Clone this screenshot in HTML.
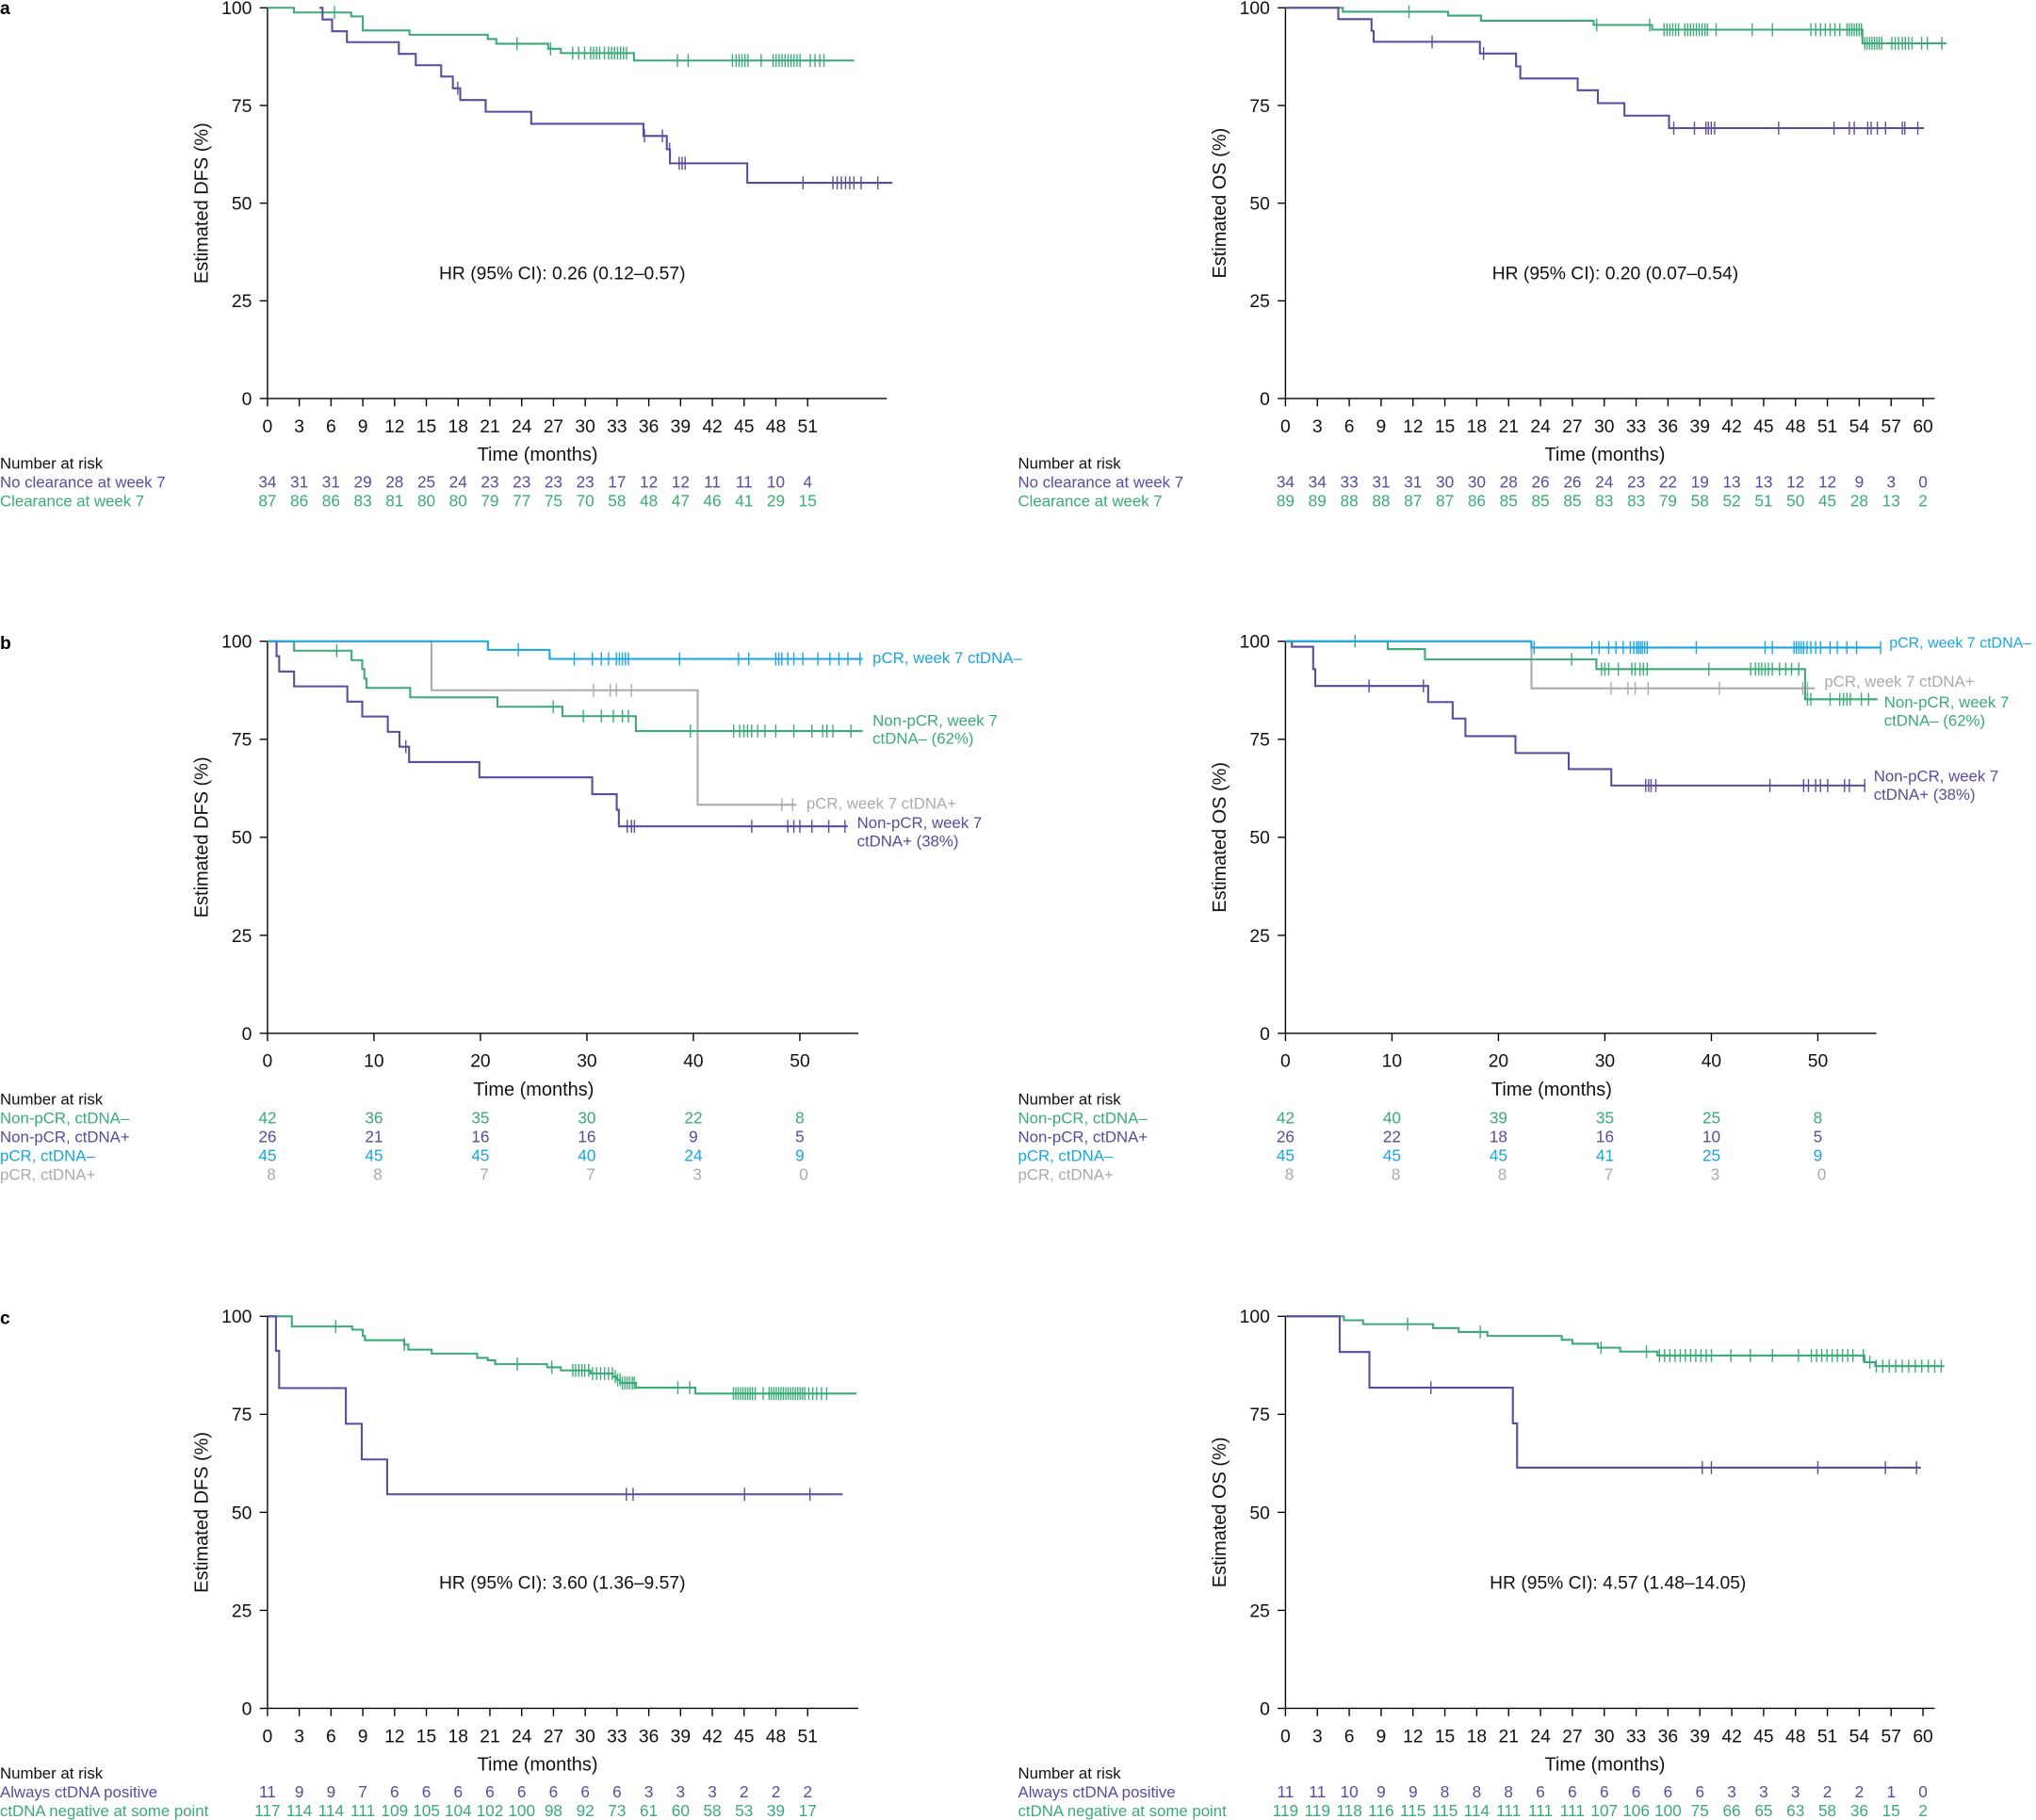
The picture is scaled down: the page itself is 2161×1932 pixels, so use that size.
<!DOCTYPE html>
<html><head><meta charset="utf-8"><style>
html,body{margin:0;padding:0;background:#fff;}
svg{display:block;font-family:"Liberation Sans Narrow","Liberation Sans",Arial,sans-serif;}
</style></head><body>
<svg id="s" width="2161" height="1932" viewBox="0 0 1568 1402" preserveAspectRatio="none" xmlns="http://www.w3.org/2000/svg"></svg>
<script>
const S=document.getElementById('s');const NS='http://www.w3.org/2000/svg';
function el(tag,a,txt){const e=document.createElementNS(NS,tag);for(const k in a)e.setAttribute(k,a[k]);if(txt!==undefined)e.textContent=txt;S.appendChild(e);return e;}
const PU='#5b4a9e',GR='#3aaa78',BL='#1aa5e0',GY='#aaaaaa';
function rng(a,b,s){const r=[];for(let v=a;v<=b+1e-9;v+=s)r.push(v);return r;}
function axes(p,ylab){
 el('line',{x1:p.x0,y1:p.yt,x2:p.x0,y2:p.yb,stroke:'#000','stroke-width':1});
 el('line',{x1:p.x0,y1:p.yb,x2:p.end,y2:p.yb,stroke:'#000','stroke-width':1});
 [0,25,50,75,100].forEach(v=>{const y=p.yb-(p.yb-p.yt)*v/100;
  el('line',{x1:p.x0-6,y1:y,x2:p.x0,y2:y,stroke:'#000','stroke-width':1});
  el('text',{x:p.x0-12,y:y+5,'font-size':14,'text-anchor':'end',fill:'#111'},String(v));});
 p.ticks.forEach(t=>{const x=p.x0+t*p.ppm;
  el('line',{x1:x,y1:p.yb,x2:x,y2:p.yb+6,stroke:'#000','stroke-width':1});
  el('text',{x:x,y:p.yb+26,'font-size':14,'text-anchor':'middle',fill:'#111'},String(t));});
 el('text',{x:p.tx,y:p.yb+48,'font-size':14.5,'text-anchor':'middle',fill:'#111'},'Time (months)');
 const cy=(p.yt+p.yb)/2;
 el('text',{x:p.x0-46,y:cy,'font-size':14.5,'text-anchor':'middle',fill:'#111',transform:`rotate(-90 ${p.x0-46} ${cy})`},ylab);
}
function curve(p,col,steps,end,cens,start){
 start=start||0;const X=t=>p.x0+t*p.ppm,Y=v=>p.yb-(p.yb-p.yt)*v/100;
 let d=`M${X(start)} ${Y(100)}`;steps.forEach(s=>{d+=` H${X(s[0])} V${Y(s[1])}`;});d+=` H${X(end)}`;
 el('path',{d:d,fill:'none',stroke:col,'stroke-width':1.5});
 const val=t=>{let v=100;steps.forEach(s=>{if(s[0]<=t)v=s[1];});return v;};
 cens.forEach(t=>{const x=X(t),y=Y(val(t));el('line',{x1:x,y1:y-5,x2:x,y2:y+5,stroke:col,'stroke-width':1});});
}
function risk(p,xl,y0,rows){
 el('text',{x:xl,y:y0,'font-size':12.2,fill:'#111'},'Number at risk');
 rows.forEach((r,i)=>{const y=y0+14.5*(i+1);
  el('text',{x:xl,y:y,'font-size':12.2,fill:r[0]},r[1]);
  r[2].forEach((n,j)=>{el('text',{x:p.x0+p.ticks[j]*p.ppm+(r[3]||0),y:y,'font-size':12.5,'text-anchor':'middle',fill:r[0]},String(n));});});
}
function txt(x,y,s,col,size,anchor){el('text',{x:x,y:y,'font-size':size||12.2,fill:col,'text-anchor':anchor||'start'},s);}
const aL={x0:206,ppm:8.157,yt:6,yb:307,end:683,ticks:rng(0,51,3),tx:414};
const aR={x0:990,ppm:8.183,yt:6,yb:307,end:1490,ticks:rng(0,60,3),tx:1236};
const bL={x0:206,ppm:8.2,yt:494,yb:796,end:661,ticks:rng(0,50,10),tx:411};
const bR={x0:990,ppm:8.2,yt:494,yb:796,end:1445,ticks:rng(0,50,10),tx:1195};
const cL={x0:206,ppm:8.157,yt:1014,yb:1316,end:661,ticks:rng(0,51,3),tx:414};
const cR={x0:990,ppm:8.183,yt:1014,yb:1316,end:1490,ticks:rng(0,60,3),tx:1236};
axes(aL,'Estimated DFS (%)');axes(aR,'Estimated OS (%)');axes(bL,'Estimated DFS (%)');axes(bR,'Estimated OS (%)');axes(cL,'Estimated DFS (%)');axes(cR,'Estimated OS (%)');
el('text',{x:0,y:11,'font-size':14,'font-weight':'bold',fill:'#000'},'a');
el('text',{x:0,y:500,'font-size':14,'font-weight':'bold',fill:'#000'},'b');
el('text',{x:0,y:1020,'font-size':14,'font-weight':'bold',fill:'#000'},'c');
const z1=x=>(x-445)/17.7;
curve(aL,GR,[[2.5,98.8],[7.9,97.8],[9.0,94.2],[13.4,93.1],[20.8,92.0],[21.6,90.8],[26.5,89.5],[27.7,88.4],[34.6,86.5]],55.4,
 [557,862,918,955,965,975,985,990,995,1000,1008,1015,1020,1025,1030,1035,1040,1045,1130,1148,1222,1228,1233,1238,1243,1248,1270,1290,1295,1300,1305,1310,1315,1320,1325,1330,1335,1352,1360,1368,1375].map(z1));
curve(aL,PU,[[5.2,97],[6.1,94],[7.5,91.2],[12.4,88.2],[14,85.3],[16.4,82.4],[17.5,79.4],[18.2,76.4],[20.6,73.4],[24.9,70.3],[35.5,67.2],[37.7,63.8],[38,60.2],[45.3,55.2]],59,
 [763,1075,1105,1117,1133,1138,1143,1340,1390,1397,1404,1411,1418,1425,1437,1465].map(z1),4.9);
txt(433,215,'HR (95% CI): 0.26 (0.12–0.57)','#111',14,'middle');
risk(aL,0,361,[[PU,'No clearance at week 7',[34,31,31,29,28,25,24,23,23,23,23,17,12,12,11,11,10,4]],[GR,'Clearance at week 7',[87,86,86,83,81,80,80,79,77,75,70,58,48,47,46,41,29,15]]]);
const z6=x=>-0.38+0.0453*x;
curve(aR,GR,[[5.4,99],[15.3,98],[18.4,96.7],[29,95.6],[34.5,94.4],[54.3,90.9]],62.2,
 [265,655,765,795,801,807,813,819,825,838,844,850,856,862,868,874,880,885,903,978,1020,1100,1110,1120,1130,1140,1150,1160,1175,1180,1185,1190,1195,1200,1205,1212,1217,1222,1227,1232,1237,1242,1247,1268,1275,1282,1290,1296,1303,1310,1330,1342,1372].map(z6));
curve(aR,PU,[[4.97,97.1],[8.1,94.1],[8.3,91.3],[18.3,88.3],[21.7,85.0],[22.1,81.9],[27.5,78.9],[29.4,75.6],[31.9,72.4],[36.1,69.2]],60.1,
 [313,420,815,858,882,887,893,900,1033,1148,1180,1190,1218,1225,1238,1255,1290,1295,1322].map(z6));
txt(1244,215,'HR (95% CI): 0.20 (0.07–0.54)','#111',14,'middle');
risk(aR,784,361,[[PU,'No clearance at week 7',[34,34,33,31,31,30,30,28,26,26,24,23,22,19,13,13,12,12,9,3,0]],[GR,'Clearance at week 7',[89,89,88,88,87,87,86,85,85,85,83,83,79,58,52,51,50,45,28,13,2]]]);
const z2=x=>(x-445)/17.7;
curve(bL,GY,[[15.4,87.5],[40.4,58.3]],49.7,[987,1015,1025,1050,1300,1318].map(z2));
curve(bL,GR,[[2.5,97.6],[7.9,95.2],[8.9,92.9],[9.1,90.5],[9.3,88.1],[13.4,85.7],[21.6,83.3],[27.7,80.9],[34.6,77.1]],55.9,
 [560,920,970,1000,1020,1035,1045,1148,1220,1230,1237,1243,1250,1260,1272,1290,1320,1350,1368,1375,1385,1415].map(z2));
curve(bL,PU,[[0.85,96.2],[1.1,92.3],[2.5,88.5],[7.5,84.6],[8.9,80.8],[11.3,76.9],[12.4,73.1],[13.3,69.2],[19.9,65.3],[30.5,61],[32.8,57],[33,52.8]],54.5,
 [675,1043,1050,1055,1250,1310,1320,1330,1350,1378,1405].map(z2));
curve(bL,BL,[[20.7,97.8],[26.5,95.5]],55.9,[862,955,985,1000,1012,1025,1030,1035,1040,1045,1130,1228,1245,1290,1295,1300,1310,1320,1335,1360,1380,1395,1410,1430].map(z2));
txt(672,511,'pCR, week 7 ctDNA–',BL);
txt(672,559,'Non-pCR, week 7',GR);txt(672,573,'ctDNA– (62%)',GR);
txt(621,623,'pCR, week 7 ctDNA+',GY);
txt(660,638,'Non-pCR, week 7',PU);txt(660,652,'ctDNA+ (38%)',PU);
risk(bL,0,851,[[GR,'Non-pCR, ctDNA–',[42,36,35,30,22,8]],[PU,'Non-pCR, ctDNA+',[26,21,16,16,9,5]],[BL,'pCR, ctDNA–',[45,45,45,40,24,9]],[GY,'pCR, ctDNA+',[8,8,7,7,3,0],3]]);
const z4=x=>-0.38+0.0452*x;
curve(bR,GY,[[23.1,88]],z4(1108),[685,720,735,762,910,1083,1093].map(z4));
curve(bR,GR,[[9.6,98],[13.1,95.4],[29.2,92.9],[48.8,85.2]],55.6,
 [153,603,665,672,680,700,728,735,745,752,760,888,975,985,992,998,1005,1012,1020,1035,1048,1060,1075,1093,1100,1140,1160,1168,1175,1182,1205,1220].map(z4));
curve(bR,PU,[[0.6,98.6],[2.6,92.9],[2.8,88.6],[13.4,84.5],[15.7,80.3],[16.9,75.8],[21.6,71.5],[26.6,67.4],[30.6,63.2]],z4(1212),
 [182,295,757,763,768,778,1015,1085,1095,1110,1120,1135,1170,1180,1212].map(z4));
curve(bR,BL,[[23.1,98.4]],z4(1245),[525,645,660,680,695,710,725,732,738,742,746,750,755,760,862,1005,1020,1065,1070,1075,1080,1085,1092,1100,1110,1120,1140,1155,1175,1195,1245].map(z4));
txt(1455,499,'pCR, week 7 ctDNA–',BL,11.6);
txt(1405,529,'pCR, week 7 ctDNA+',GY);
txt(1451,545,'Non-pCR, week 7',GR);txt(1451,559,'ctDNA– (62%)',GR);
txt(1443,602,'Non-pCR, week 7',PU);txt(1443,616,'ctDNA+ (38%)',PU);
risk(bR,784,851,[[GR,'Non-pCR, ctDNA–',[42,40,39,35,25,8]],[PU,'Non-pCR, ctDNA+',[26,22,18,16,10,5]],[BL,'pCR, ctDNA–',[45,45,45,41,25,9]],[GY,'pCR, ctDNA+',[8,8,8,7,3,0],3]]);
const z5=x=>(x-35)*0.03744;
curve(cL,GR,[[2.3,97.4],[8.0,96.6],[9.0,95.0],[9.2,93.9],[12.9,92.8],[13.3,91.5],[15.5,90.5],[19.8,89.4],[20.8,88.8],[21.5,87.8],[26.4,87.0],[27.7,86.2],[30.5,85.4],[32.6,84.6],[33.0,83.8],[33.3,83.0],[34.8,81.8],[40.4,80.3]],55.6,
 [207,380,665,752,805,812,820,828,835,845,855,865,875,885,895,905,912,918,924,930,936,942,948,955,960,1070,1100,1210,1216,1222,1228,1234,1240,1246,1252,1258,1265,1285,1300,1306,1312,1318,1324,1330,1336,1342,1348,1354,1360,1366,1372,1378,1384,1390,1400,1410,1420,1432,1445].map(z5));
curve(cL,PU,[[0.8,91.2],[1.1,81.7],[7.4,72.6],[8.9,63.5],[11.3,54.6]],54.3,[940,957,1238,1403].map(z5));
txt(433,1224,'HR (95% CI): 3.60 (1.36–9.57)','#111',14,'middle');
risk(cL,0,1370,[[PU,'Always ctDNA positive',[11,9,9,7,6,6,6,6,6,6,6,6,3,3,3,2,2,2]],[GR,'ctDNA negative at some point',[117,114,114,111,109,105,104,102,100,98,92,73,61,60,58,53,39,17]]]);
const mx=x=>(x-990)/8.183;
const cg=[1084,1140,1233,1268];for(let x=1278;x<=1320;x+=4)cg.push(x);cg.push(1333,1348,1365,1385);for(let x=1395;x<=1430;x+=4)cg.push(x);for(let x=1435;x<=1495;x+=5)cg.push(x);
curve(cR,GR,[[5.5,99],[7.3,98],[13.9,97],[16.3,96],[19,95],[26,94],[27,93],[29.4,92],[31.5,91],[35,90],[54.5,88.3],[55.5,87.3]],62,cg.map(mx));
curve(cR,PU,[[5.1,90.9],[7.9,81.8],[21.4,72.7],[21.8,61.4]],59.8,[1102,1311,1318,1400,1452,1476].map(mx));
txt(1246,1224,'HR (95% CI): 4.57 (1.48–14.05)','#111',14,'middle');
risk(cR,784,1370,[[PU,'Always ctDNA positive',[11,11,10,9,9,8,8,8,6,6,6,6,6,6,3,3,3,2,2,1,0]],[GR,'ctDNA negative at some point',[119,119,118,116,115,115,114,111,111,111,107,106,100,75,66,65,63,58,36,15,2]]]);
</script>
</body></html>
